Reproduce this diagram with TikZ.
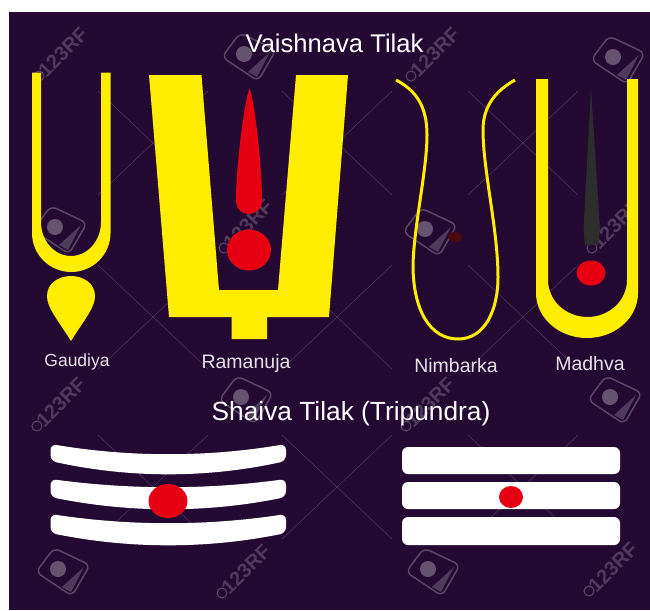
\documentclass[tikz,border=0pt]{standalone}
\usepackage{fontspec}
\setmainfont{Liberation Sans}
\usepackage{xcolor}
\usetikzlibrary{positioning, calc}
\definecolor{tilakbg}{HTML}{240A33}
\definecolor{tilakyellow}{HTML}{FFED00}
\definecolor{tilakred}{HTML}{E60012}
\definecolor{tilakdark}{HTML}{2E2E2E}
\definecolor{tilakmaroon}{HTML}{4A0A12}

\begin{document}
\begin{tikzpicture}[
    x=1pt, y=-1pt,
    heading/.style={text=white, font=\fontsize{26.3}{28}\selectfont, inner sep=0pt},
    caption/.style={text=white!88!tilakbg, font=\fontsize{19.5}{22}\selectfont, inner sep=0pt},
    stamp/.style={text=white, text opacity=0.2, rotate=45, font=\bfseries\fontsize{20}{22}\selectfont, inner sep=0pt},
    egg/.style={draw=white, draw opacity=0.25, line width=1.5pt, rounded corners=6pt},
    yellowpart/.style={fill=tilakyellow},
    redpart/.style={fill=tilakred},
    band/.style={fill=white, rounded corners=6pt}
]
    \useasboundingbox (0,0) rectangle (650,610);
    \fill[white] (0,0) rectangle (650,610);
    \fill[tilakbg] (9,12) rectangle (650,610);

    % Watermark grid
    \foreach \cx in {153,337,523} {
        \foreach \cy in {143,317,487} {
            \draw[white, opacity=0.2, line width=0.5pt] (\cx-55,\cy-52) -- (\cx+55,\cy+52);
            \draw[white, opacity=0.2, line width=0.5pt] (\cx+55,\cy-52) -- (\cx-55,\cy+52);
        }
    }
    \foreach \cx/\cy in {248/57, 617/60, 59/230, 429/232, 245/400, 614/400, 62/572, 432/572} {
        \draw[egg] (\cx-8,\cy-24) -- (\cx+28,\cy-7) -- (\cx+10,\cy+24) -- (\cx-26,\cy) -- cycle;
        \fill[white, opacity=0.3] (\cx-4,\cy-3) circle [radius=8];
        \fill[white, opacity=0.2] (\cx+22,\cy-5) -- (\cx+9,\cy+20) -- (\cx,\cy+15) -- cycle;
    }
    \foreach \cx/\cy [count=\i] in {60/55, 432/55, 245/227, 613/227, 58/405, 427/405, 243/572, 610/570} {
        \node[stamp] (stamp\i) at (\cx+3,\cy-3) {123RF};
        \draw[white, opacity=0.25, line width=1pt] (\cx-21,\cy+21) circle [radius=5];
    }

    % Titles
    \node[heading, font=\fontsize{25.6}{28}\selectfont] (vaishnava) at (334.5,43) {Vaishnava Tilak};
    \node[heading] (shaiva) at (351,414) {Shaiva Tilak (Tripundra)};

    % Gaudiya
    \fill[yellowpart] (32,72.5) -- (32,233) arc[start angle=180, end angle=0, x radius=39.25, y radius=39]
        -- (110.5,72.5) -- (101,72.5) -- (101,222) arc[start angle=0, end angle=180, x radius=30, y radius=34]
        -- (41,72.5) -- cycle;
    \fill[yellowpart] (71,341) .. controls (58,320) and (47,308) .. (47,296)
        .. controls (47,283) and (59,276) .. (71,276)
        .. controls (83,276) and (95,283) .. (95,296)
        .. controls (95,308) and (84,320) .. (71,341) -- cycle;
    \node[caption, font=\fontsize{17.5}{20}\selectfont] (gaudiya) at (77,362) {Gaudiya};

    % Ramanuja
    \fill[yellowpart] (149,75) -- (201.5,75) -- (219,290) -- (278,290) -- (296,75) -- (348,75)
        -- (329,317) -- (267,317) -- (267,339) -- (231.5,339) -- (231.5,317) -- (169,317) -- cycle;
    \fill[redpart] (249.5,89) .. controls (245,97) and (236,165) .. (236,200)
        .. controls (236,209) and (242,214) .. (249,214)
        .. controls (256,214) and (262,209) .. (262,200)
        .. controls (262,165) and (254,97) .. (249.5,89) -- cycle;
    \fill[redpart] (249,250) ellipse [x radius=22, y radius=20.5];
    \node[caption] (ramanuja) at (246,363) {Ramanuja};

    % Nimbarka
    \draw[tilakyellow, line width=3pt] (396,80) .. controls (415,90) and (427,105) .. (427,135)
        .. controls (427,170) and (414,225) .. (413,265)
        .. controls (413,310) and (430,339) .. (458,339)
        .. controls (485,339) and (498,310) .. (498,277)
        .. controls (498,230) and (483,170) .. (483,130)
        .. controls (483,105) and (497,90) .. (515,80);
    \fill[tilakmaroon] (455,237) ellipse [x radius=7, y radius=5];
    \node[caption] (nimbarka) at (456,366) {Nimbarka};

    % Madhva
    \fill[yellowpart] (536,79) -- (536,293) arc[start angle=180, end angle=0, x radius=51, y radius=45]
        -- (638,79) -- (627,79) -- (627,280) arc[start angle=0, end angle=180, x radius=39.5, y radius=37]
        -- (548,79) -- cycle;
    \fill[tilakdark] (591,88) -- (583.5,230) -- (585,245) -- (598,245) -- (600,230) -- cycle;
    \fill[redpart] (591,273) ellipse [x radius=14.5, y radius=12.5];
    \node[caption] (madhva) at (590,364) {Madhva};

    % Curved bands
    \foreach \a/\b/\c/\d in {444/461/457.3/478.3, 479/497/489.7/513, 514/533/526/549} {
        \fill[band] (50.5,\a) .. controls (130,\c) and (207,\c) .. (286,\a) -- (286,\b)
            .. controls (207,\d) and (130,\d) .. (50.5,\b) -- cycle;
    }
    \fill[redpart] (168,501) ellipse [x radius=19.5, y radius=17];

    % Straight bands
    \foreach \a/\b in {447/474, 482/509, 517/545} {
        \fill[band] (402,\a) rectangle (620,\b);
    }
    \fill[redpart] (511,497) ellipse [x radius=12, y radius=11];
\end{tikzpicture}
\end{document}
